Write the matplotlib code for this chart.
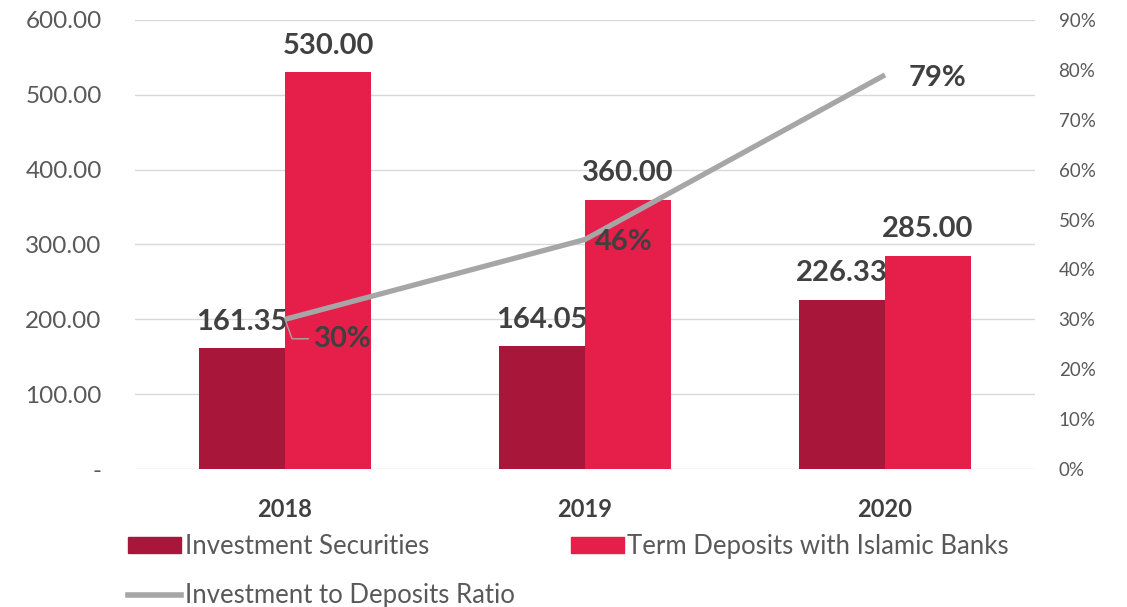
import matplotlib
matplotlib.use("Agg")
import matplotlib.pyplot as plt
import matplotlib.ticker as mticker
from matplotlib.lines import Line2D
import matplotlib.patches as mpatches
import numpy as np

years = ["2018", "2019", "2020"]
investment_securities = [161.35, 164.05, 226.33]
term_deposits = [530.00, 360.00, 285.00]
ratio_pct = [30, 46, 79]

DARK = "#A8163A"
RED = "#E61E4A"
GRAY_LINE = "#A6A6A6"
TXT = "#404040"
TICK = "#595959"

plt.rcParams["font.family"] = ["Lato", "DejaVu Sans"]

fig = plt.figure(figsize=(11.27, 6.07), dpi=100)
ax = fig.add_axes([135 / 1127, 1 - 469 / 607, 900 / 1127, 449 / 607])
ax2 = ax.twinx()

x = np.arange(len(years))
w = 0.287
b1 = ax.bar(x - w / 2, investment_securities, w, color=DARK, zorder=2)
b2 = ax.bar(x + w / 2, term_deposits, w, color=RED, zorder=2)

ax.set_xlim(-0.5, 2.5)
ax.set_ylim(0, 600)
ax.set_yticks(range(0, 601, 100))
ax.yaxis.set_major_formatter(mticker.FuncFormatter(lambda v, p: "-" if v == 0 else f"{v:.2f}"))
ax.grid(axis="y", color="#D9D9D9", linewidth=1, zorder=0)
ax.set_axisbelow(True)
for s in ax.spines.values():
    s.set_visible(False)
for s in ax2.spines.values():
    s.set_visible(False)
ax.tick_params(axis="y", length=0, pad=24, labelsize=17.5, labelcolor=TICK)
ax.set_xticks(x)
ax.set_xticklabels(years, fontweight="bold", fontsize=17, color=TXT)
ax.tick_params(axis="x", length=0, pad=21)

# bar value labels
for bars, vals in ((b1, investment_securities), (b2, term_deposits)):
    for rect, v in zip(bars, vals):
        ax.annotate(f"{v:.2f}", (rect.get_x() + rect.get_width() / 2, v),
                    xytext=(0, 19), textcoords="offset points",
                    ha="center", va="center", fontsize=21, fontweight="bold",
                    color=TXT, zorder=5)

# ratio line on right axis
ratios = [r / 100 for r in ratio_pct]
ax2.plot(x, ratios, color=GRAY_LINE, linewidth=3.8, solid_capstyle="butt", zorder=3)
ax2.set_ylim(0, 0.9)
ax2.set_yticks(np.arange(0, 0.91, 0.1))
ax2.yaxis.set_major_formatter(mticker.PercentFormatter(1.0, decimals=0))
ax2.tick_params(axis="y", length=0, pad=17, labelsize=13.5, labelcolor=TICK)

# ratio labels
ax2.annotate(f"{ratio_pct[0]}%", (x[0], ratios[0]), xytext=(21, -14),
             textcoords="offset points", ha="left", va="center",
             fontsize=21, fontweight="bold", color=TXT,
             arrowprops=dict(arrowstyle="-", color=GRAY_LINE, lw=1,
                             connectionstyle="angle,angleA=0,angleB=-70,rad=0",
                             shrinkA=2, shrinkB=0))
ax2.annotate(f"{ratio_pct[1]}%", (x[1], ratios[1]), xytext=(28, -2),
             textcoords="offset points", ha="center", va="center",
             fontsize=21, fontweight="bold", color=TXT)
ax2.annotate(f"{ratio_pct[2]}%", (x[2], ratios[2]), xytext=(17, -2),
             textcoords="offset points", ha="left", va="center",
             fontsize=21, fontweight="bold", color=TXT)

handles = [
    mpatches.Patch(color=DARK, label="Investment Securities"),
    Line2D([], [], color=GRAY_LINE, linewidth=4, label="Investment to Deposits Ratio"),
    mpatches.Patch(color=RED, label="Term Deposits with Islamic Banks"),
]
fig.legend(handles=handles, loc="upper left", bbox_to_anchor=(128 / 1127, 1 - 534 / 607),
           ncol=2, frameon=False, fontsize=18.5, handlelength=2.05, handleheight=0.62,
           handletextpad=0.15, columnspacing=2.2, labelspacing=0.95,
           labelcolor=TICK, borderaxespad=0, borderpad=0)

fig.savefig("out.png", dpi=100)
